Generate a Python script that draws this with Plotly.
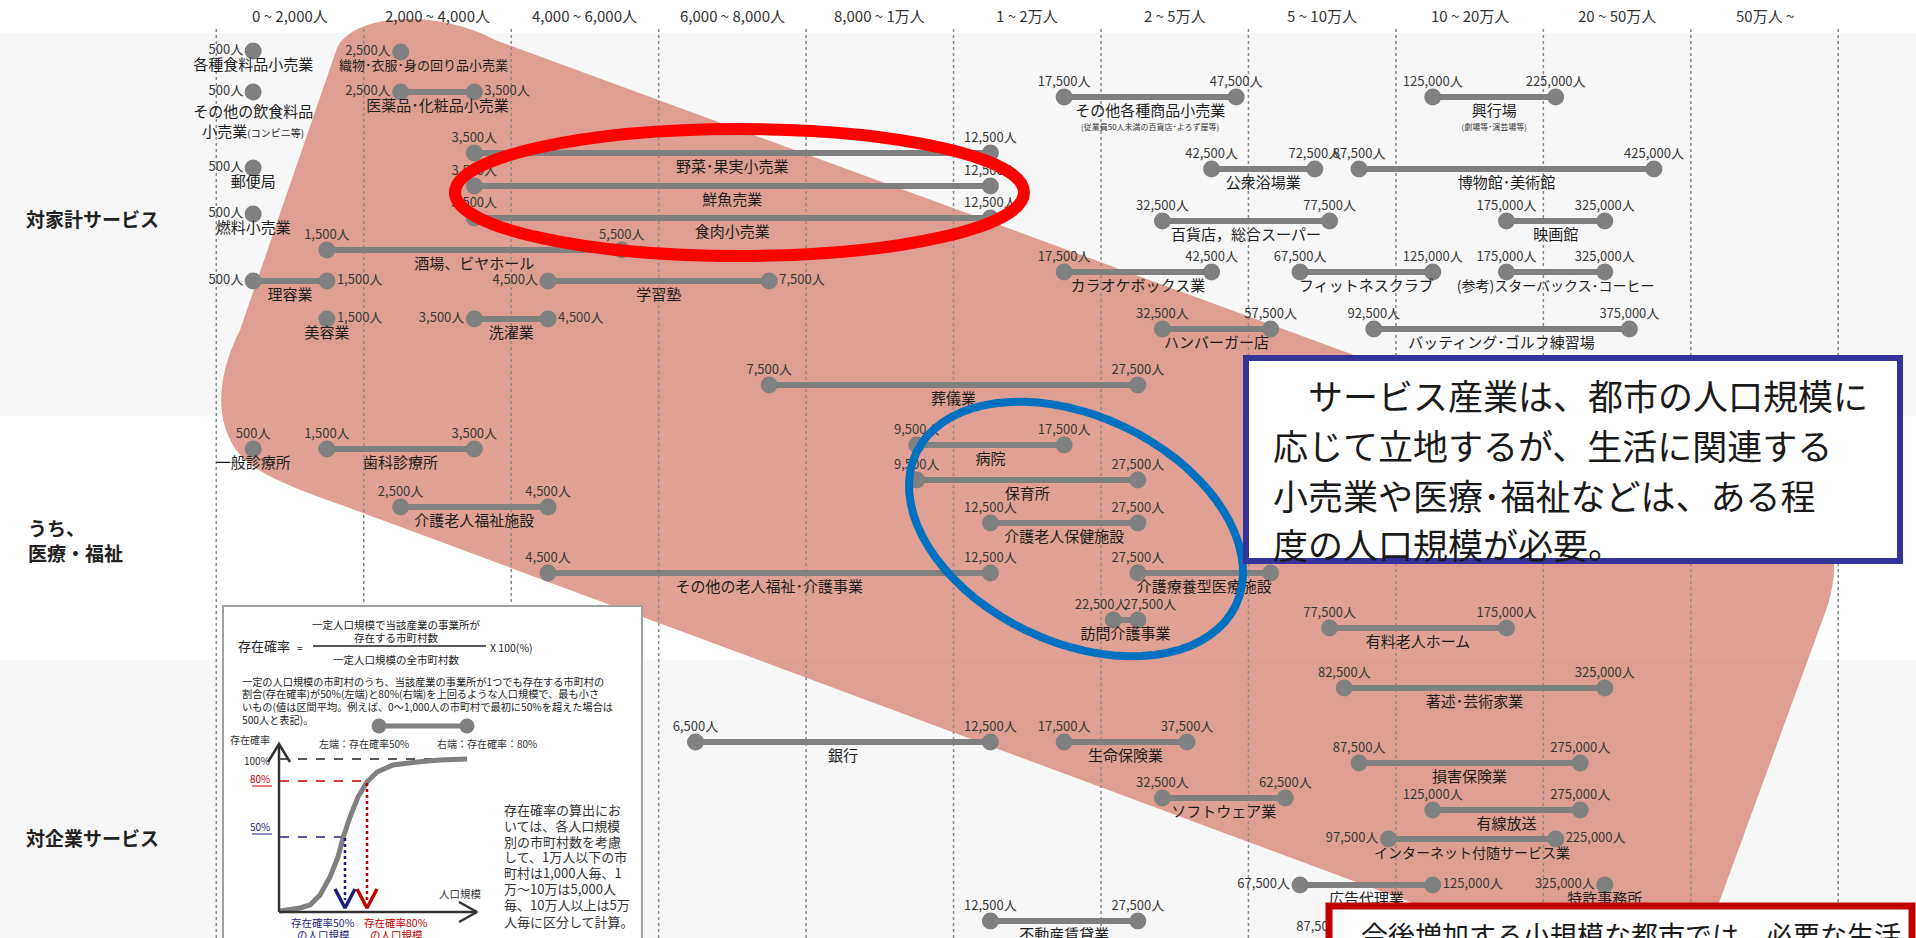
import numpy as np
import plotly.graph_objects as go

FONT = "Noto Sans CJK JP"

# -----------------------
# Population classes (x axis)
# -----------------------
CLASS_EDGES = [0, 2000, 4000, 6000, 8000, 10000, 20000, 50000, 100000, 200000, 500000]
CLASS_LABELS = [
    "0 ~ 2,000人", "2,000 ~ 4,000人", "4,000 ~ 6,000人", "6,000 ~ 8,000人", "8,000 ~ 1万人",
    "1 ~ 2万人", "2 ~ 5万人", "5 ~ 10万人", "10 ~ 20万人", "20 ~ 50万人", "50万人 ~",
]
GROUP_LABELS = ["対家計サービス", "うち、<br>医療・福祉", "対企業サービス"]

# -----------------------
# Industries: population where existence probability passes 50% / 80%
# (P80 = None -> only one value shown)
# -----------------------
NAMES = [
    # 対家計サービス
    "各種食料品小売業", "織物･衣服･身の回り品小売業",
    "その他の飲食料品<br>小売業<span style='font-size:10px'>(コンビニ等)</span>",
    "医薬品･化粧品小売業", "その他各種商品小売業", "興行場", "野菜･果実小売業", "郵便局",
    "公衆浴場業", "博物館･美術館", "鮮魚売業", "燃料小売業", "食肉小売業", "百貨店，総合スーパー",
    "映画館", "酒場、ビヤホール", "カラオケボックス業", "フィットネスクラブ",
    "(参考)スターバックス･コーヒー", "理容業", "学習塾", "美容業", "洗濯業", "ハンバーガー店",
    "バッティング･ゴルフ練習場", "葬儀業",
    # 医療・福祉
    "一般診療所", "歯科診療所", "病院", "保育所", "介護老人福祉施設", "介護老人保健施設",
    "その他の老人福祉･介護事業", "介護療養型医療施設", "訪問介護事業", "有料老人ホーム",
    # 対企業サービス
    "著述･芸術家業", "銀行", "生命保険業", "損害保険業", "ソフトウェア業", "有線放送",
    "インターネット付随サービス業", "広告代理業", "特許事務所", "不動産賃貸業", "",
]
P50 = [
    500, 2500, 500, 2500, 17500, 125000, 3500, 500, 42500, 87500, 3500, 500, 3500, 32500,
    175000, 1500, 17500, 67500, 175000, 500, 4500, 1500, 3500, 32500, 92500, 7500,
    500, 1500, 9500, 9500, 2500, 12500, 4500, 27500, 22500, 77500,
    82500, 6500, 17500, 87500, 32500, 125000, 97500, 67500, 325000, 12500, 87500,
]
P80 = [
    None, None, None, 3500, 47500, 225000, 12500, None, 72500, 425000, 12500, None, 12500, 77500,
    325000, 5500, 42500, 125000, 325000, 1500, 7500, None, 4500, 57500, 375000, 27500,
    None, 3500, 17500, 27500, 4500, 27500, 12500, 57500, 27500, 175000,
    325000, 12500, 37500, 275000, 62500, 275000, 225000, 125000, None, 27500, None,
]
NOTES = {
    "その他各種商品小売業": "(従業員50人未満の百貨店･よろず屋等)",
    "興行場": "(劇場等･演芸場等)",
}

# layout of each row (pixels from top) and where its value labels sit
ROW_Y = [
    51, 52, 92, 92, 97, 97, 153, 168, 169, 169, 186, 214, 218, 221, 221, 250, 272, 272, 272,
    281, 281, 319, 319, 329, 329, 385,
    449, 449, 445, 480, 507, 523, 573, 573, 620, 628,
    688, 742, 742, 763, 798, 810, 839, 885, 885, 921, 928,
]
LABEL_SIDE = [
    "left", "left", "left", "side", "above", "above", "above", "left", "above", "above", "above",
    "left", "above", "above", "above", "above", "above", "above", "above", "side", "side",
    "right", "side", "above", "above", "above",
    "above", "above", "above", "above", "above", "above", "above", "above", "above", "above",
    "above", "above", "above", "above", "above", "above", "side", "side", "left", "above", "left",
]
NAME_SHIFT = {"織物･衣服･身の回り品小売業": (23, 0), "その他の飲食料品": (0, 16)}
NAME_SIZE = {"織物･衣服･身の回り品小売業": 13, "(参考)スターバックス･コーヒー": 14,
             "インターネット付随サービス業": 14}

# existence-probability sketch inside the note box (pixel positions)
CURVE_X = [280, 300, 310, 320, 330, 338, 343, 350, 358, 367, 377, 393, 417, 440, 467]
CURVE_Y = [911, 908, 905, 895, 877, 857, 838, 817, 797, 782, 772, 765, 762, 760, 759]

BOX_LINES = [
    "　サービス産業は、都市の人口規模に",
    "応じて立地するが、生活に関連する",
    "小売業や医療･福祉などは、ある程",
    "度の人口規模が必要。",
]
RED_BOX_LINE = "今後増加する小規模な都市では、必要な生活"

FORMULA_NOTE = [
    "一定の人口規模の市町村のうち、当該産業の事業所が1つでも存在する市町村の",
    "割合(存在確率)が50%(左端)と80%(右端)を上回るような人口規模で、最も小さ",
    "いもの(値は区間平均。例えば、0～1,000人の市町村で最初に50%を超えた場合は",
    "500人と表記)。",
]
CALC_NOTE = [
    "存在確率の算出にお", "いては、各人口規模", "別の市町村数を考慮", "して、1万人以下の市",
    "町村は1,000人毎、1", "万～10万は5,000人", "毎、10万人以上は5万", "人毎に区分して計算。",
]

W, H = 1916, 938
PX0, PX_PER_CLASS = 216.3, 147.45
GRAY = "#808080"


def pos(v):
    return float(np.interp(v, CLASS_EDGES, np.arange(len(CLASS_EDGES))))


def gap(px):
    return px / PX_PER_CLASS


def fmt(v):
    return f"{v:,}人"


# -----------------------
# Dumbbells
# -----------------------
line_x, line_y, dot_x, dot_y = [], [], [], []
lab_x, lab_y, lab_t, lab_p = [], [], [], []
nm_x, nm_y, nm_t, nm_s = [], [], [], []
note_x, note_y, note_t = [], [], []

for name, lo, hi, y, side in zip(NAMES, P50, P80, ROW_Y, LABEL_SIDE):
    x_lo = pos(lo)
    dot_x.append(x_lo)
    dot_y.append(y)
    if hi is not None:
        x_hi = pos(hi)
        line_x += [x_lo, x_hi, None]
        line_y += [y, y, None]
        dot_x.append(x_hi)
        dot_y.append(y)
        mid = (x_lo + x_hi) / 2
        if side == "above" and (x_hi - x_lo) < gap(60):
            # ends too close: push the two labels apart
            lab_x += [mid + gap(2), mid - gap(2)]
            lab_y += [y - 14, y - 14]
            lab_p += ["middle left", "middle right"]
        elif side == "above":
            lab_x += [x_lo, x_hi]
            lab_y += [y - 14, y - 14]
            lab_p += ["middle center", "middle center"]
        else:
            lab_x += [x_lo - gap(10), x_hi + gap(10)]
            lab_y += [y, y]
            lab_p += ["middle left", "middle right"]
        lab_t += [fmt(lo), fmt(hi)]
    else:
        mid = x_lo
        if side == "above":
            lab_x.append(x_lo)
            lab_y.append(y - 14)
            lab_p.append("middle center")
        elif side == "left":
            lab_x.append(x_lo - gap(10))
            lab_y.append(y)
            lab_p.append("middle left")
        else:
            lab_x.append(x_lo + gap(10))
            lab_y.append(y)
            lab_p.append("middle right")
        lab_t.append(fmt(lo))

    if name:
        key = name.split("<br>")[0]
        dx, dy = NAME_SHIFT.get(key, (0, 0))
        nm_x.append(mid + gap(dx))
        nm_y.append(y + 15 + dy)
        nm_t.append(name)
        nm_s.append(NAME_SIZE.get(key, 15))
    if name in NOTES:
        note_x.append(mid)
        note_y.append(y + 31)
        note_t.append(NOTES[name])

fig = go.Figure()
fig.add_trace(go.Scatter(x=line_x, y=line_y, mode="lines",
                         line=dict(color=GRAY, width=6), hoverinfo="skip"))
fig.add_trace(go.Scatter(x=dot_x, y=dot_y, mode="markers",
                         marker=dict(color=GRAY, size=17), hoverinfo="skip"))
fig.add_trace(go.Scatter(x=lab_x, y=lab_y, mode="text", text=lab_t, textposition=lab_p,
                         textfont=dict(family=FONT, size=13, color="#3a3a3a"), hoverinfo="skip"))
fig.add_trace(go.Scatter(x=nm_x, y=nm_y, mode="text", text=nm_t, textposition="middle center",
                         textfont=dict(family=FONT, size=nm_s, color="#1e1e1e"), hoverinfo="skip"))
fig.add_trace(go.Scatter(x=note_x, y=note_y, mode="text", text=note_t, textposition="middle center",
                         textfont=dict(family=FONT, size=8, color="#333"), hoverinfo="skip"))


# -----------------------
# Sketch in the note box (pixel axis x2)
# -----------------------
def seg(xs, ys, color, width, dash="solid"):
    fig.add_trace(go.Scatter(x=xs, y=ys, xaxis="x2", mode="lines", hoverinfo="skip",
                             line=dict(color=color, width=width, dash=dash)))


seg([313, 486], [646, 646], "#222", 1.5)
seg([379, 467], [726, 726], GRAY, 5)
fig.add_trace(go.Scatter(x=[379, 467], y=[726, 726], xaxis="x2", mode="markers", hoverinfo="skip",
                         marker=dict(color=GRAY, size=15)))
seg([280, 467], [759, 759], "#222", 1.5, "dash")
seg([280, 367], [781, 781], "#c00000", 1.5, "dash")
seg([280, 345], [837, 837], "#1f1f7a", 1.5, "dash")
seg(CURVE_X, CURVE_Y, GRAY, 5)
seg([345, 345], [838, 900], "#1f1f7a", 2.5, "dot")
seg([367, 367], [783, 900], "#c00000", 2.5, "dot")
seg([335, 345, 355], [889, 908, 889], "#1f1f7a", 3.5)
seg([357, 367, 377], [889, 908, 889], "#c00000", 3.5)
seg([279, 279], [912, 745], "#333", 2.5)
seg([268, 279, 290], [762, 744, 762], "#333", 2.5)
seg([279, 477], [912, 912], "#333", 2.5)
seg([459, 477, 459], [902, 912, 922], "#333", 2.5)
seg([252, 272], [786, 786], "#c00000", 1)
seg([252, 272], [834, 834], "#1f1f7a", 1)

# -----------------------
# Shapes
# -----------------------
shapes = [
    dict(type="rect", xref="x2", yref="y", x0=0, x1=W, y0=33, y1=416,
         fillcolor="#f7f7f7", line_width=0, layer="below"),
    dict(type="rect", xref="x2", yref="y", x0=0, x1=W, y0=660, y1=H,
         fillcolor="#f7f7f7", line_width=0, layer="below"),
    dict(type="path", xref="x2", yref="y", layer="below", line_width=0,
         fillcolor="rgba(214,130,112,0.75)",
         path="M 240,330 L 337,48 C 355,12 440,10 495,40 L 1790,515 "
              "C 1838,533 1840,560 1828,605 L 1698,960 L 1566,960 L 363,513 "
              "C 300,490 262,478 240,455 C 215,425 215,380 240,330 Z"),
]
for k in range(len(CLASS_EDGES) + 1):
    shapes.append(dict(type="line", xref="x", yref="y", x0=k, x1=k, y0=29, y1=H, layer="below",
                       line=dict(color="#8a8a8a", width=1.5, dash="dot")))
shapes.append(dict(type="rect", xref="x2", yref="y", x0=223, x1=642, y0=606, y1=H + 20,
                   fillcolor="white", line=dict(color="#a0a0a0", width=2), layer="below"))

# highlight ellipses
shapes.append(dict(type="circle", xref="x2", yref="y", x0=455, x1=1024, y0=129, y1=256,
                   line=dict(color="#ff0000", width=12), layer="above"))
t = np.linspace(0, 2 * np.pi, 73)
th = np.deg2rad(25.5)
ex = 1076 + 177 * np.cos(t) * np.cos(th) - 113 * np.sin(t) * np.sin(th)
ey = 529 + 177 * np.cos(t) * np.sin(th) + 113 * np.sin(t) * np.cos(th)
shapes.append(dict(type="path", xref="x2", yref="y", layer="above",
                   line=dict(color="#0070c0", width=8),
                   path="M " + " L ".join(f"{a:.1f},{b:.1f}" for a, b in zip(ex, ey)) + " Z"))

# message boxes
shapes.append(dict(type="rect", xref="x2", yref="y", x0=1246, x1=1900, y0=358, y1=561,
                   fillcolor="white", line=dict(color="#333399", width=6), layer="above"))
shapes.append(dict(type="rect", xref="x2", yref="y", x0=1329, x1=1912, y0=906, y1=H + 30,
                   fillcolor="white", line=dict(color="#c00000", width=7), layer="above"))

# -----------------------
# Annotations
# -----------------------
ann = []


def text(x, y, s, size, color="#222", xanchor="center", xref="x2", bold=False):
    ann.append(dict(x=x, y=y, xref=xref, yref="y", text=f"<b>{s}</b>" if bold else s,
                    showarrow=False, xanchor=xanchor, yanchor="middle", align="left",
                    font=dict(family=FONT, size=size, color=color)))


for k, lab in enumerate(CLASS_LABELS):
    text(k + 0.5, 15, lab, 15, "#333", xref="x")

text(24, 218, GROUP_LABELS[0], 19, bold=True, xanchor="left")
text(26, 540, GROUP_LABELS[1], 19, bold=True, xanchor="left")
text(24, 837, GROUP_LABELS[2], 19, bold=True, xanchor="left")

for s, y in zip(BOX_LINES, [394, 444, 494, 543]):
    text(1271, y, s, 35, "#1a1a1a", xanchor="left")
text(1359, 934, RED_BOX_LINE, 27, "#1a1a1a", xanchor="left")

# formula
text(396, 624, "一定人口規模で当該産業の事業所が", 10.5)
text(396, 637, "存在する市町村数", 10.5)
text(264, 645, "存在確率", 13)
text(300, 647, "=", 10)
text(511, 647, "X 100(%)", 10.5)
text(396, 659, "一定人口規模の全市町村数", 10.5)
for s, y in zip(FORMULA_NOTE, [681, 693, 706, 719]):
    text(240, y, s, 10.2, xanchor="left")
text(250, 739, "存在確率", 10, "#333")
text(364, 743, "左端：存在確率50%", 10, "#333")
text(487, 743, "右端：存在確率：80%", 10, "#333")
text(272, 760, "100%", 10, "#333", xanchor="right")
text(272, 778, "80%", 10, "#c00000", xanchor="right")
text(272, 826, "50%", 10, "#1f1f7a", xanchor="right")
text(460, 893, "人口規模", 10.5, "#333")
text(323, 922, "存在確率50%", 10.5, "#1f1f7a")
text(323, 934, "の人口規模", 10.5, "#1f1f7a")
text(396, 922, "存在確率80%", 10.5, "#c00000")
text(396, 934, "の人口規模", 10.5, "#c00000")
for s, y in zip(CALC_NOTE, [809, 825, 841, 856, 872, 888, 904, 921]):
    text(502, y, s, 13, "#333", xanchor="left")

fig.update_layout(
    width=W,
    height=H,
    margin=dict(l=0, r=0, t=0, b=0),
    paper_bgcolor="white",
    plot_bgcolor="white",
    showlegend=False,
    shapes=shapes,
    annotations=ann,
    xaxis=dict(range=[-PX0 / PX_PER_CLASS, (W - PX0) / PX_PER_CLASS], visible=False, fixedrange=True),
    xaxis2=dict(range=[0, W], overlaying="x", anchor="y", visible=False, fixedrange=True),
    yaxis=dict(range=[H, 0], visible=False, fixedrange=True),
)

fig.write_html("out.html", config={"displayModeBar": False},
               post_script="document.body.style.margin='0';")
